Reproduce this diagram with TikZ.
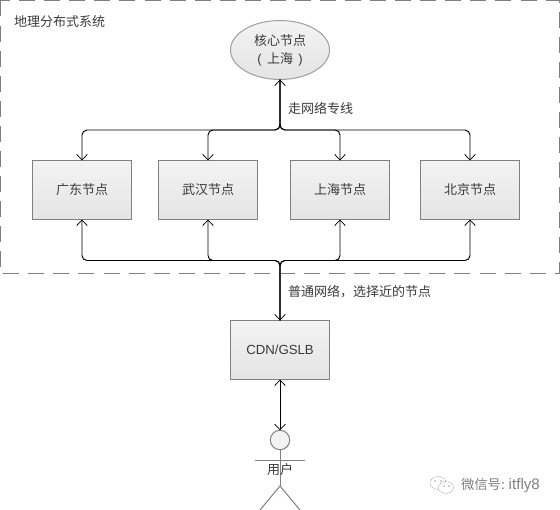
\documentclass[tikz,border=0pt]{standalone}
\usepackage{fontspec}
\setmainfont{Noto Sans CJK SC}[Scale=1]
\newfontfamily\latinf{Liberation Sans}
\usetikzlibrary{arrows.meta,shapes.geometric,calc}
\definecolor{edgegrey}{HTML}{7F7F7F}
\definecolor{txt}{HTML}{3A3A3A}
\definecolor{fillT}{HTML}{F3F3F3}
\definecolor{fillB}{HTML}{E4E4E4}
\tikzset{
  x=0.75pt,y=-0.75pt,
  every node/.style={font=\fontsize{9.75pt}{13.5pt}\selectfont,text=txt,inner sep=0pt,outer sep=0pt},
  boxnode/.style={draw=edgegrey,line width=0.75pt,top color=fillT,bottom color=fillB,minimum width=74.25pt,minimum height=44.25pt,align=center},
  corenode/.style={ellipse,draw=edgegrey!75,line width=0.75pt,top color=fillT,bottom color=fillB,minimum width=74.25pt,minimum height=44.25pt,align=center},
  conn/.style={draw=black,line width=0.72pt,rounded corners=3.75pt},
  barb/.style={},
  open/.style={-{Straight Barb[length=4.2pt,width=8pt,line width=0.55pt]}},
  biopen/.style={{Straight Barb[length=4.2pt,width=8pt,line width=0.55pt]}-{Straight Barb[length=4.2pt,width=8pt,line width=0.55pt]}},
  actorline/.style={draw=edgegrey,line width=0.75pt},
  plain/.style={anchor=west},
  wmdots/.style={edgegrey!65,line width=0.55pt,dash pattern=on 1.2pt off 0.9pt}
}
\begin{document}
\begin{tikzpicture}
\useasboundingbox (0,0) rectangle (560,510);
\draw[edgegrey,line width=0.8pt,dash pattern=on 12pt off 6.8pt] (0.5,0.5) rectangle (559.5,273.5);
\node[plain] (title) at (14,22) {地理分布式系统};
\node[corenode] (core) at (280,50) {核心节点\\{\latinf(}\hspace{4pt}上海\hspace{4pt}{\latinf)}};
\node[boxnode] (gd) at (82,190) {广东节点};
\node[boxnode] (wh) at (208,190) {武汉节点};
\node[boxnode] (sh) at (340,190) {上海节点};
\node[boxnode] (bj) at (470,190) {北京节点};
\node[boxnode] (cdn) at (280,350) {{\latinf\fontsize{9.9pt}{12pt}\selectfont CDN/GSLB}};
\coordinate (topj) at (280,130);
\coordinate (botj) at (280,260.5);
\node[plain] (l1) at (288,108) {走网络专线};
\node[plain] (l2) at (288,292) {普通网络，选择近的节点};
% top bus
\draw[conn,biopen] (core.south) -- (topj) -| (gd.north);
\draw[conn,open] (core.south) -- (topj) -| (wh.north);
\draw[conn,open] (core.south) -- (topj) -| (sh.north);
\draw[conn,open] (core.south) -- (topj) -| (bj.north);
% bottom bus
\draw[conn,biopen] (cdn.north) -- (botj) -| (gd.south);
\draw[conn,open] (cdn.north) -- (botj) -| (wh.south);
\draw[conn,open] (cdn.north) -- (botj) -| (sh.south);
\draw[conn,open] (cdn.north) -- (botj) -| (bj.south);
% actor
\node[circle,draw=edgegrey,line width=0.75pt,fill=fillT,minimum size=14.6pt] (head) at (280,440) {};
\draw[conn,biopen] (cdn.south) -- (head.north);
\coordinate (armL) at (255,460);
\coordinate (armR) at (305,460);
\coordinate (hip) at (280,486);
\coordinate (legL) at (260,510);
\coordinate (legR) at (300,510);
\draw[actorline] (head.south) -- (hip);
\draw[actorline] (armL) -- (armR);
\draw[actorline] (legL) -- (hip) -- (legR);
\node (user) at (280,470) {用户};
% watermark
\node[plain,text=edgegrey,font=\fontsize{10pt}{12pt}\selectfont] (wm) at (461,485) {微信号: {\latinf\fontsize{11.4pt}{12pt}\selectfont itfly8}};
\draw[wmdots] (438,483) ellipse [x radius=8,y radius=6.5];
\draw[wmdots,fill=white] (446,487.5) ellipse [x radius=7.5,y radius=6];
\fill[edgegrey!70] (435,481) circle [radius=0.9] (441,481) circle [radius=0.9] (444,486) circle [radius=0.8] (449,486) circle [radius=0.8];
\end{tikzpicture}
\end{document}
